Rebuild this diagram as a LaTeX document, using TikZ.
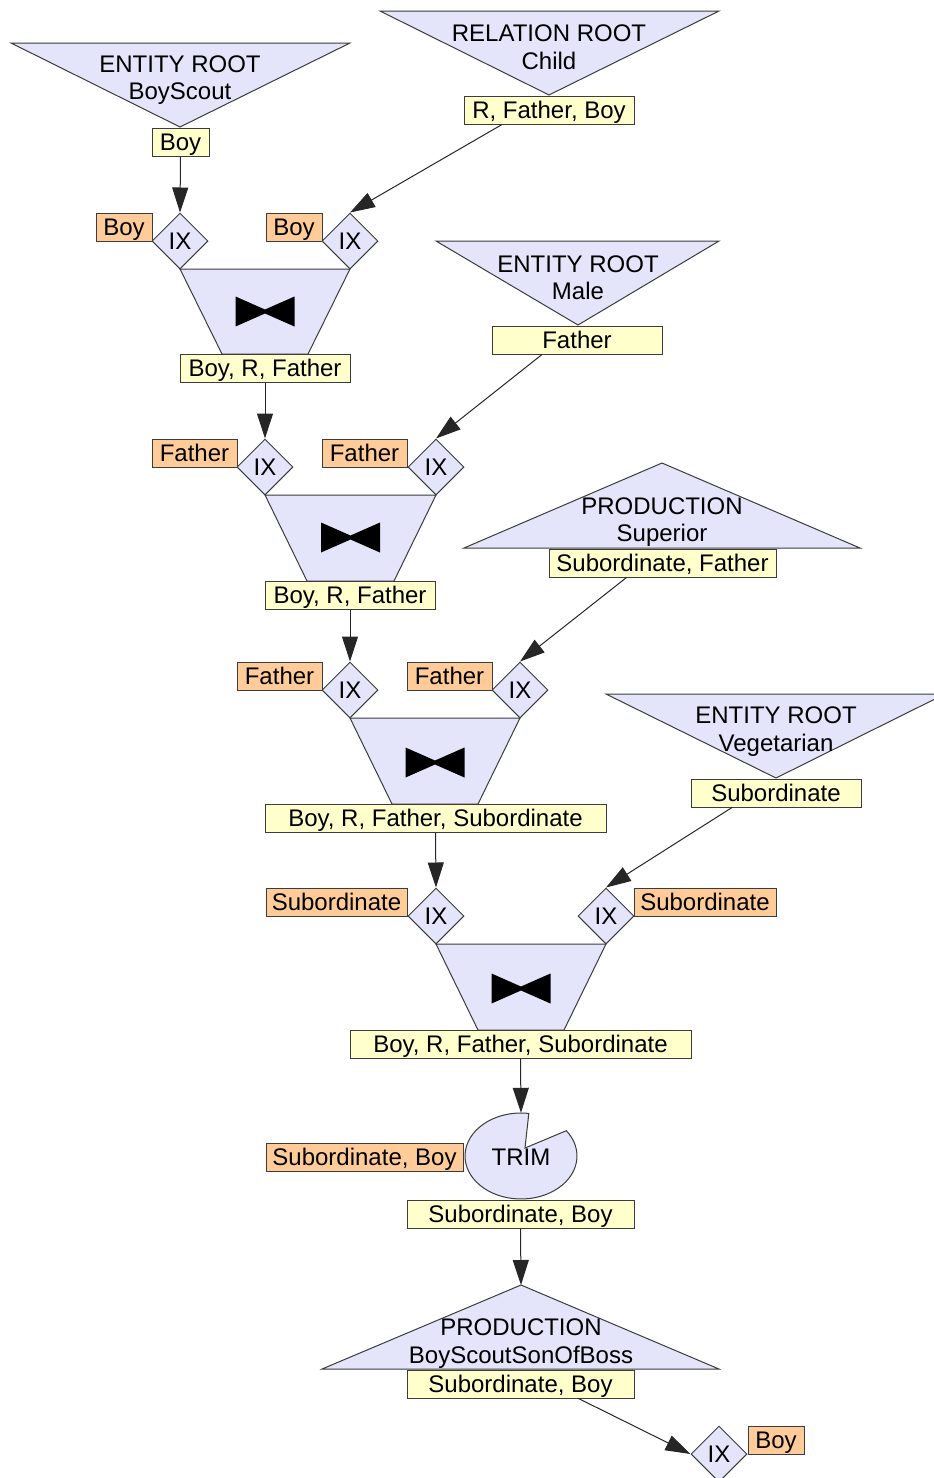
\documentclass[tikz,border=0pt]{standalone}
\usepackage{fontspec}
\setmainfont{Liberation Sans}
\usetikzlibrary{shapes.geometric,arrows.meta,calc}

\definecolor{shapefill}{RGB}{228,228,250}
\definecolor{attrfill}{RGB}{255,255,204}
\definecolor{keyfill}{RGB}{255,204,153}
\definecolor{edgegray}{RGB}{60,60,60}

\tikzset{
  txt/.style={font=\fontsize{24}{27.5}\selectfont},
  onerow/.style={text height=17.2pt, text depth=0pt},
  attrbox/.style={txt, onerow, draw=edgegray, line width=1pt, fill=attrfill, rectangle,
    minimum height=28pt, inner xsep=3pt, inner ysep=0pt},
  keybox/.style={txt, onerow, draw=edgegray, line width=1pt, fill=keyfill, rectangle,
    minimum height=28pt, inner xsep=3pt, inner ysep=0pt},
  ixnode/.style={txt, onerow, diamond, draw=edgegray, line width=1pt, fill=shapefill,
    minimum size=56pt, inner sep=0pt, aspect=1},
  shapebody/.style={draw=edgegray, line width=1pt, fill=shapefill},
  rootlabel/.style={txt, align=center, inner sep=0pt},
  flow/.style={draw=black!85, line width=1pt, -{Triangle[length=25pt,width=16pt]}},
  bowtie/.pic={\fill[black] (-29.5,-15) -- (0,-2) -- (29.5,-15) -- (29.5,15) -- (0,2) -- (-29.5,15) -- cycle;}
}

\begin{document}
\begin{tikzpicture}[x=1pt,y=-1pt]
\useasboundingbox (0,0) rectangle (934,1478);
\clip (0,0) rectangle (934,1478);

% ---------- root triangles (pointing down) ----------
\draw[shapebody] (11,43) -- (350,43) -- (180,127) -- cycle;
\node[rootlabel] (rBoyScout) at (180,80) {ENTITY ROOT\\BoyScout};
\draw[shapebody] (380,11) -- (719,11) -- (549,95) -- cycle;
\node[rootlabel] (rChild) at (549,47) {RELATION ROOT\\Child};
\draw[shapebody] (436,241) -- (719,241) -- (578,325) -- cycle;
\node[rootlabel] (rMale) at (578,277.5) {ENTITY ROOT\\Male};
\draw[shapebody] (606,694) -- (945,694) -- (776,778) -- cycle;
\node[rootlabel] (rVeg) at (776,731.5) {ENTITY ROOT\\Vegetarian};

% ---------- production triangles (pointing up) ----------
\draw[shapebody] (662,463) -- (860,548) -- (464,548) -- cycle;
\node[rootlabel] (pSup) at (662,522) {PRODUCTION\\Superior};
\draw[shapebody] (521,1285) -- (719,1369) -- (322,1369) -- cycle;
\coordinate (pBossTop) at (521,1285);
\node[rootlabel] (pBoss) at (521,1343.5) {PRODUCTION\\BoyScoutSonOfBoss};

% ---------- join trapezoids ----------
\draw[shapebody] (180,269) -- (350,269) -- (308,354) -- (222,354) -- cycle;
\pic at (265,311.5) {bowtie};
\draw[shapebody] (265,495) -- (436,495) -- (394,581) -- (307,581) -- cycle;
\pic at (350.5,537.5) {bowtie};
\draw[shapebody] (350,718) -- (520,718) -- (478,804) -- (392,804) -- cycle;
\pic at (435,762.5) {bowtie};
\draw[shapebody] (436,944) -- (606,944) -- (564,1030) -- (478,1030) -- cycle;
\pic at (521,988.5) {bowtie};

% ---------- trim ----------
\draw[shapebody] (525,1148) -- (528.8,1113.4)
  arc[start angle=82, end angle=396, x radius=56pt, y radius=43pt] -- cycle;
\node[ellipse, minimum width=112pt, minimum height=86pt, inner sep=0pt] (trimshape) at (521,1156) {};
\node[txt, onerow, inner sep=0pt] (trim) at (521,1157) {TRIM};

% ---------- index diamonds ----------
\node[ixnode] (ix1) at (180,241) {IX};
\node[ixnode] (ix2) at (350,241) {IX};
\node[ixnode] (ix3) at (265,467) {IX};
\node[ixnode] (ix4) at (436,467) {IX};
\node[ixnode] (ix5) at (350,690) {IX};
\node[ixnode] (ix6) at (520,690) {IX};
\node[ixnode] (ix7) at (436,916) {IX};
\node[ixnode] (ix8) at (606,916) {IX};
\node[ixnode] (ix9) at (719,1454) {IX};

% ---------- key boxes ----------
\node[keybox, minimum width=56pt] (k1) at (124,227) {Boy};
\node[keybox, minimum width=56pt] (k2) at (294,227) {Boy};
\node[keybox, minimum width=85pt] (k3) at (194.5,453) {Father};
\node[keybox, minimum width=85pt] (k4) at (364.5,453) {Father};
\node[keybox, minimum width=85pt] (k5) at (279.5,676) {Father};
\node[keybox, minimum width=85pt] (k6) at (449.5,676) {Father};
\node[keybox, minimum width=141pt] (k7) at (336.5,902) {Subordinate};
\node[keybox, minimum width=142pt] (k8) at (705,902) {Subordinate};
\node[keybox, minimum width=197pt] (k9) at (364.5,1157) {Subordinate, Boy};
\node[keybox, minimum width=56pt] (k10) at (776,1440) {Boy};

% ---------- attribute boxes ----------
\node[attrbox, minimum width=57pt] (a1) at (180.5,142) {Boy};
\node[attrbox, minimum width=170pt] (a2) at (549,110) {R, Father, Boy};
\node[attrbox, minimum width=170pt] (a3) at (265,368) {Boy, R, Father};
\node[attrbox, minimum width=170pt] (a4) at (577,340) {Father};
\node[attrbox, minimum width=170pt] (a5) at (350,595) {Boy, R, Father};
\node[attrbox, minimum width=227pt] (a6) at (662.5,563) {Subordinate, Father};
\node[attrbox, minimum width=341pt] (a7) at (435.5,818) {Boy, R, Father, Subordinate};
\node[attrbox, minimum width=170pt] (a8) at (776,793) {Subordinate};
\node[attrbox, minimum width=341pt] (a9) at (520.5,1044) {Boy, R, Father, Subordinate};
\node[attrbox, minimum width=227pt] (a10) at (520.5,1214) {Subordinate, Boy};
\node[attrbox, minimum width=227pt] (a11) at (520.5,1384) {Subordinate, Boy};

% ---------- connectors ----------
\draw[flow] (a1.south) -- (ix1.north);
\draw[flow] ($(a2.south)+(-47,0)$) -- (ix2.north);
\draw[flow] (a3.south) -- (ix3.north);
\draw[flow] ($(a4.south)+(-35,0)$) -- (ix4.north);
\draw[flow] (a5.south) -- (ix5.north);
\draw[flow] ($(a6.south)+(-36,0)$) -- (ix6.north);
\draw[flow] (a7.south) -- (ix7.north);
\draw[flow] ($(a8.south)+(-44,0)$) -- (ix8.north);
\draw[flow] (a9.south) -- (trimshape.north);
\draw[flow] (a10.south) -- (pBossTop);
\draw[flow] ($(a11.south)+(58,0)$) -- (ix9.west);
\end{tikzpicture}
\end{document}
